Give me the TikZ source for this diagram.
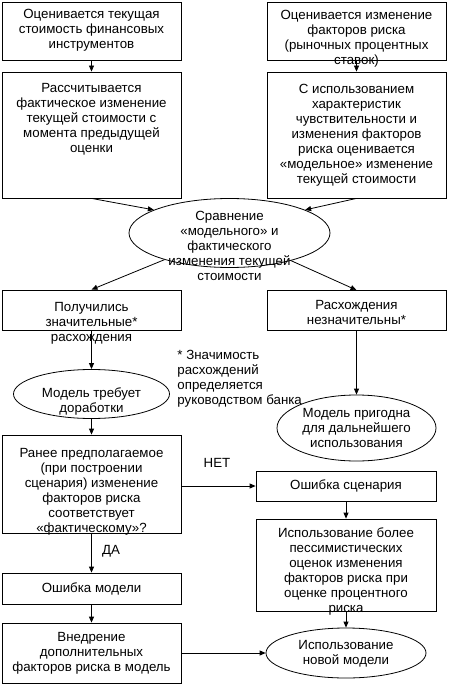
\documentclass[tikz,border=0pt]{standalone}
\usepackage{fontspec}
\setmainfont{Liberation Sans}
\usetikzlibrary{arrows.meta,shapes.geometric}

\begin{document}
\begin{tikzpicture}[x=1pt, y=-1pt, >={Triangle[length=6pt,width=5pt]},
  line width=0.8pt,
  box/.style={draw, rectangle, minimum width=179pt, inner sep=0pt},
  oval/.style={draw, ellipse, inner sep=0pt},
  txt/.style={anchor=north, align=center, inner sep=0pt,
              font=\fontsize{13.3}{15}\selectfont}]
\useasboundingbox (0,0) rectangle (448,692);
% upper part: two columns
\node[box, minimum height=58pt, label={[txt, yshift=-7pt]north:{Оценивается текущая\\стоимость финансовых\\инструментов}}] (a) at (91.5,31) {};
\node[box, minimum height=58pt, label={[txt, yshift=-8pt]north:{Оценивается изменение\\факторов риска\\(рыночных процентных\\ставок)}}] (b) at (356.5,31) {};
\node[box, minimum height=126pt, label={[txt, yshift=-11pt]north:{Рассчитывается\\фактическое изменение\\текущей стоимости с\\момента предыдущей\\оценки}}] (c) at (91.5,135) {};
\node[box, minimum height=126pt, label={[txt, yshift=-12pt]north:{С использованием\\характеристик\\чувствительности и\\изменения факторов\\риска оценивается\\«модельное» изменение\\текущей стоимости}}] (d) at (356.5,135) {};
\node[oval, minimum width=201pt, minimum height=69pt, label={[txt, yshift=-13pt]north:{Сравнение\\«модельного» и\\фактического\\изменения текущей\\стоимости}}] (e) at (229.5,233) {};
% outcome of the comparison
\node[box, minimum height=40pt, label={[txt, yshift=-12pt]north:{Получились\\значительные*\\расхождения}}] (f) at (91.5,310) {};
\node[box, minimum height=40pt, label={[txt, yshift=-10pt]north:{Расхождения\\незначительны*}}] (g) at (356.5,310.5) {};
\node[oval, minimum width=156pt, minimum height=49pt, label={[txt, yshift=-18pt]north:{Модель требует\\доработки}}] (h) at (91.5,394) {};
\node[oval, minimum width=159pt, minimum height=66pt, label={[txt, yshift=-13pt]north:{Модель пригодна\\для дальнейшего\\использования}}] (i) at (356.5,428) {};
\node[txt, anchor=north west, align=left] (note) at (177,350) {* Значимость\\расхождений\\определяется\\руководством банка};
% check of the scenario
\node[box, minimum height=98pt, label={[txt, yshift=-13pt]north:{Ранее предполагаемое\\(при построении\\сценария) изменение\\факторов риска\\соответствует\\«фактическому»?}}] (j) at (91.5,484) {};
\node[box, minimum width=180pt, minimum height=30pt, label={[txt, yshift=-9pt]north:{Ошибка сценария}}] (k) at (346,486) {};
\node[box, minimum width=180pt, minimum height=92pt, label={[txt, yshift=-9pt]north:{Использование более\\пессимистических\\оценок изменения\\факторов риска при\\оценке процентного\\риска}}] (l) at (346,565) {};
\node[oval, minimum width=160pt, minimum height=50pt, label={[txt, yshift=-12pt]north:{Использование\\новой модели}}] (m) at (346,653) {};
\node[box, minimum height=31pt, label={[txt, yshift=-10pt]north:{Ошибка модели}}] (n) at (91.5,588.5) {};
\node[box, minimum height=60pt, label={[txt, yshift=-9pt]north:{Внедрение\\дополнительных\\факторов риска в модель}}] (o) at (91.5,653) {};
\node[txt, anchor=center] (net) at (217,463) {НЕТ};
\node[txt, anchor=center] (da) at (111,551) {ДА};
% connectors
\draw[->] (a) -- (c);
\draw[->] (b) -- (d);
\draw[->] (c.south) -- (e.163);
\draw[->] (d.south) -- (e.17);
\draw[->] (e) -- (f.north);
\draw[->] (e) -- (g.north);
\draw[->] (f) -- (h);
\draw[->] (g) -- (i);
\draw[->] (h) -- (j);
\draw[->] (j.east |- k) -- (k.west);
\draw[->] (j) -- (n);
\draw[->] (n) -- (o);
\draw[->] (k) -- (l);
\draw[->] (l) -- (m);
\draw[->] (o) -- (m);
\end{tikzpicture}
\end{document}
